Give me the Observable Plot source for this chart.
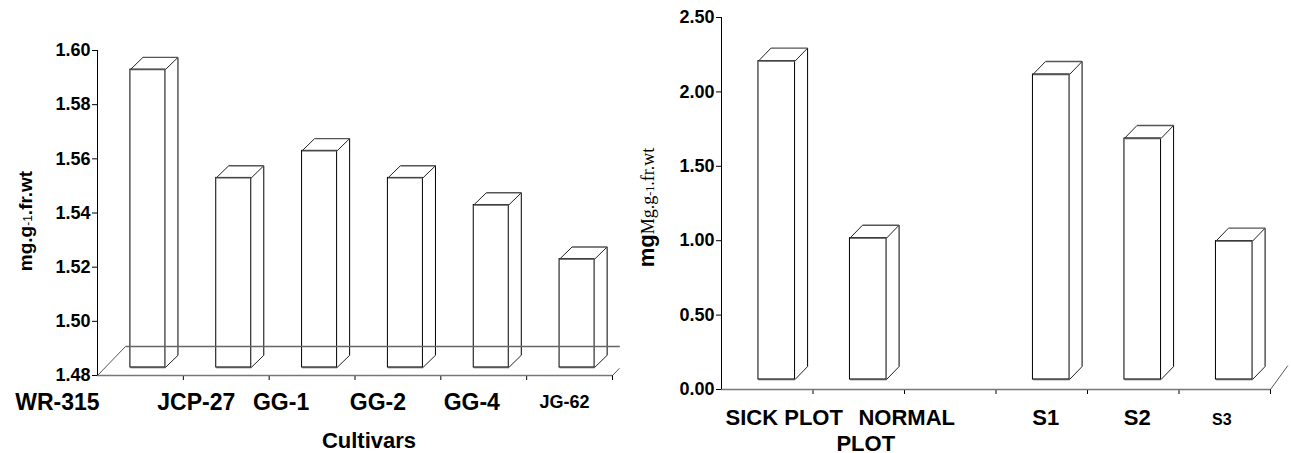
<!DOCTYPE html>
<html><head><meta charset="utf-8">
<script src="https://cdn.jsdelivr.net/npm/d3@7"></script>
<script src="https://cdn.jsdelivr.net/npm/@observablehq/plot@0.6"></script>
<style>
body{margin:0;background:#fff;}
#wrap{display:flex;width:1291px;height:453px;background:#fff;}
svg{display:block}
</style></head><body><div id="wrap"></div>
<script>
// ---- data ----
const cultivars = ["WR-315", "JCP-27", "GG-1", "GG-2", "GG-4", "JG-62"];
const cultivarValues = [1.59, 1.55, 1.56, 1.55, 1.54, 1.52];
const cultivarTicks = [1.48, 1.50, 1.52, 1.54, 1.56, 1.58, 1.60];
const plotNames = ["SICK PLOT", "NORMAL PLOT", "", "S1", "S2", "S3"];
const plotValues = [2.14, 0.95, null, 2.05, 1.62, 0.93];
const plotTicks = [0.00, 0.50, 1.00, 1.50, 2.00, 2.50];

const FONT = "'Liberation Sans', Arial, Helvetica, sans-serif";
const NARROW = "'Liberation Sans Narrow', 'Arial Narrow', 'Liberation Sans', sans-serif";
const SERIF = "'Liberation Serif', 'Times New Roman', serif";

function makeBars(names, values, base, halfW, depthX, depthY) {
  const out = [];
  names.forEach((n, i) => {
    const v = values[i];
    if (v == null) return;
    const c = i + 0.5;
    out.push({n, x1: c - halfW, x2: c + halfW, bx1: c - halfW + depthX, bx2: c + halfW + depthX,
      v, vb: v + depthY, base, bb: base + depthY});
  });
  return out;
}

function barMarks(bars, offX, offY) {
  const o = {dx: offX, dy: -offY};
  return [
    Plot.rect(bars, {x1: "x1", x2: "x2", y1: "base", y2: "v", fill: "white", stroke: "black", strokeWidth: 1, ...o}),
    Plot.link(bars, {x1: "x2", y1: "base", x2: "bx2", y2: "bb", stroke: "#222", strokeWidth: 1, ...o}),
    Plot.link(bars, {x1: "bx2", y1: "bb", x2: "bx2", y2: "vb", stroke: "black", strokeWidth: 1, ...o}),
    Plot.link(bars, {x1: "x1", y1: "v", x2: "bx1", y2: "vb", stroke: "#222", strokeWidth: 1, ...o}),
    Plot.link(bars, {x1: "x2", y1: "v", x2: "bx2", y2: "vb", stroke: "#222", strokeWidth: 1, ...o}),
    Plot.link(bars, {x1: "bx1", y1: "vb", x2: "bx2", y2: "vb", stroke: "#555", strokeWidth: 1.4, ...o}),
    Plot.link(bars, {x1: "x1", y1: "v", x2: "x2", y2: "v", stroke: "#555", strokeWidth: 1.4, ...o}),
    Plot.link(bars, {x1: "x1", y1: "base", x2: "x2", y2: "base", stroke: "#555", strokeWidth: 1.4, ...o})
  ];
}

const seg = (a, b, c, d) => [{a, b, c, d}];
const segOpts = {x1: "a", y1: "b", x2: "c", y2: "d"};

// ---- left chart ----
const lBase = cultivarTicks[0], lTop = cultivarTicks[cultivarTicks.length - 1];
const lBars = makeBars(cultivars, cultivarValues, lBase, 0.204, 0.146, 0.0045);
const lFloorDX = 0.326, lFloorDY = 0.0107;
const lNudge = [-83, -30, -31, -20, -12, -5];
const lSize = [23, 23, 23, 23, 23, 18];

const left = Plot.plot({
  width: 640, height: 453,
  marginLeft: 97, marginRight: 28, marginTop: 50, marginBottom: 78,
  style: {fontFamily: FONT, fontSize: "18px", fontWeight: "bold", background: "white", color: "black", overflow: "visible"},
  x: {domain: [0, 6], ticks: [1, 2, 3, 4, 5, 6], tickFormat: () => "", tickSize: 5, label: null},
  y: {domain: [lBase, lTop], ticks: cultivarTicks, tickFormat: d3.format(".2f"), tickSize: 5, tickPadding: 2, label: null},
  marks: [
    Plot.ruleY([lBase], {x1: 0, x2: 6, stroke: "#777", strokeWidth: 1.4}),
    Plot.link(seg(0, lBase, lFloorDX, lBase + lFloorDY), {...segOpts, stroke: "#555"}),
    Plot.link(seg(6, lBase, 6 + lFloorDX * 0.25, lBase + lFloorDY * 0.25), {...segOpts, stroke: "#555"}),
    ...barMarks(lBars, 7.5, 8),
    Plot.link(seg(lFloorDX, lBase + lFloorDY, 6 + lFloorDX * 0.26, lBase + lFloorDY), {...segOpts, stroke: "#666", strokeWidth: 1.6}),
    Plot.ruleX([0], {y1: lBase, y2: lTop, stroke: "black"}),
    ...cultivars.map((c, i) => Plot.text([{t: c, p: i + 0.5, b: lBase}], {x: "p", y: "b", text: "t", dx: lNudge[i], dy: 27, fontSize: lSize[i], fontWeight: "bold", fill: "black"})),
    Plot.text(["Cultivars"], {frameAnchor: "bottom", lineAnchor: "middle", dx: 14, dy: 65, fontSize: 22, fontWeight: "bold", fill: "black"}),
    Plot.text(["mg.g-1.fr.wt"], {frameAnchor: "left", textAnchor: "middle", lineAnchor: "middle", dx: -72, dy: 8, rotate: -90, fontSize: 19, fontWeight: "bold", fill: "black"})
  ]
});

// ---- right chart ----
const rBase = plotTicks[0], rTop = plotTicks[plotTicks.length - 1];
const rBars = makeBars(plotNames, plotValues, rBase, 0.2, 0.137, 0.087);
const rText = {fontWeight: "bold", fill: "black", x: "p", y: "b", text: "t"};
const right = Plot.plot({
  width: 651, height: 453,
  marginLeft: 81, marginRight: 21, marginTop: 17, marginBottom: 64,
  style: {fontFamily: FONT, fontSize: "18px", fontWeight: "bold", background: "white", color: "black", overflow: "visible"},
  x: {domain: [0, 6], ticks: [1, 2, 3, 4, 5, 6], tickFormat: () => "", tickSize: 5, label: null},
  y: {domain: [rBase, rTop], ticks: plotTicks, tickFormat: d3.format(".2f"), tickSize: 5, tickPadding: 2, label: null},
  marks: [
    Plot.ruleY([rBase], {x1: 0, x2: 6, stroke: "#777", strokeWidth: 1.4}),
    Plot.link(seg(6, rBase, 6.19, rBase + 0.161), {...segOpts, stroke: "#555"}),
    ...barMarks(rBars, 9.5, 10),
    Plot.ruleX([0], {y1: rBase, y2: rTop, stroke: "black"}),
    // category labels
    Plot.text([{t: plotNames[0], p: 0.5, b: rBase}], {...rText, dx: 17, dy: 28, fontSize: 22}),
    Plot.text([{t: plotNames[1].split(" ")[0], p: 1.5, b: rBase}], {...rText, dx: 48, dy: 28, fontSize: 22}),
    Plot.text([{t: plotNames[1].split(" ")[1], p: 1.5, b: rBase}], {...rText, dx: 7, dy: 54, fontSize: 22}),
    Plot.text([{t: plotNames[3], p: 3.5, b: rBase}], {...rText, dx: 4, dy: 28, fontSize: 22}),
    Plot.text([{t: plotNames[4], p: 4.5, b: rBase}], {...rText, dx: 4, dy: 28, fontSize: 22}),
    Plot.text([{t: plotNames[5], p: 5.5, b: rBase}], {...rText, dx: -3, dy: 30, fontSize: 16, fontFamily: NARROW}),
    Plot.text(["mgMg.g-1.fr.wt"], {frameAnchor: "left", textAnchor: "middle", lineAnchor: "middle", dx: -73, dy: 4, rotate: -90, fontSize: 18, fill: "black"})
  ]
});

// rich y-labels (small "-1")
function richLabel(svg, full, parts) {
  d3.select(svg).selectAll("text").filter(function() { return this.textContent === full; }).each(function() {
    const t = d3.select(this);
    t.text(null);
    parts.forEach(p => {
      const s = t.append("tspan").text(p.t);
      if (p.size) s.attr("font-size", p.size);
      if (p.weight) s.attr("font-weight", p.weight);
      if (p.family) s.attr("font-family", p.family);
    });
  });
}
richLabel(left, "mg.g-1.fr.wt", [
  {t: "mg.g", size: 19, weight: "bold"}, {t: "-1", size: 12, weight: "normal"}, {t: ".fr.wt", size: 19, weight: "bold"}
]);
richLabel(right, "mgMg.g-1.fr.wt", [
  {t: "mg", size: 22, weight: "bold", family: FONT}, {t: "Mg.g", size: 18, weight: "normal", family: SERIF},
  {t: "-1", size: 12, weight: "normal", family: SERIF}, {t: ".fr.wt", size: 18, weight: "normal", family: SERIF}
]);

document.getElementById("wrap").append(left, right);
</script></body></html>
